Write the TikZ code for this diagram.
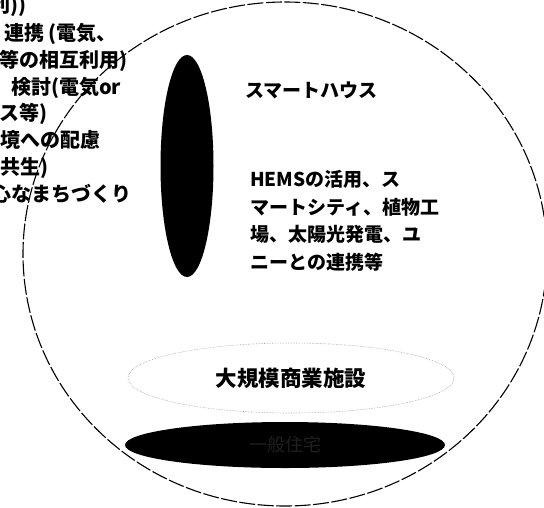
\documentclass[tikz,border=0pt]{standalone}
\usepackage{fontspec}
\newfontfamily\cjk{Noto Sans CJK JP}
\usetikzlibrary{shapes.geometric}
\begin{document}
\begin{tikzpicture}[x=1pt,y=-1pt,
  lefttext/.style={font=\cjk\bfseries\fontsize{20}{26}\selectfont, inner sep=0pt, anchor=base west},
  bodytext/.style={font=\cjk\bfseries\fontsize{19}{27.7}\selectfont, inner sep=0pt, align=left},
  bigcircle/.style={line width=1.1pt, dash pattern=on 16pt off 2.5pt},
  blackoval/.style={ellipse, fill=black, inner sep=0pt},
  paleoval/.style={ellipse, draw=black!35, densely dotted, line width=0.6pt, inner sep=0pt}
]
\useasboundingbox (0,0) rectangle (544,507);
\clip (0,0) rectangle (544,507);
\fill[white] (0,0) rectangle (544,507);

% left text column (cut off at the left edge)
\node[lefttext] (l1) at (-9.5,12.4) {利))};
\node[lefttext] (l2) at (4,40.4) {連携 (電気、};
\node[lefttext] (l3) at (-1,67.4) {等の相互利用)};
\node[lefttext] (l4) at (11,94.4) {検討(電気or};
\node[lefttext] (l5) at (-1,120.4) {ス等)};
\node[lefttext] (l6) at (0,147.4) {境への配慮};
\node[lefttext] (l7) at (0,174.4) {共生)};
\node[lefttext] (l8) at (-9,201.4) {心なまちづくり};

% big dashed circle
\draw[bigcircle] (285,254) ellipse [x radius=262pt, y radius=252pt];

% vertical black oval
\node[blackoval, minimum width=53pt, minimum height=222pt] (house) at (187,166) {};

\node[bodytext, anchor=base west] (houselabel) at (245,97) {スマートハウス};
\node[bodytext, anchor=north west] (hems) at (250,170) {HEMSの活用、ス\\マートシティ、植物工\\場、太陽光発電、ユ\\ニーとの連携等};

% pale dotted oval
\node[paleoval, minimum width=326pt, minimum height=70pt,
      font=\cjk\bfseries\fontsize{21.5}{24}\selectfont] (mall) at (291,378) {大規模商業施設};

% bottom black oval
\node[blackoval, minimum width=320pt, minimum height=46pt,
      font=\cjk\fontsize{18}{20}\selectfont, text=black!88] (base) at (285,445) {一般住宅};
\end{tikzpicture}
\end{document}
